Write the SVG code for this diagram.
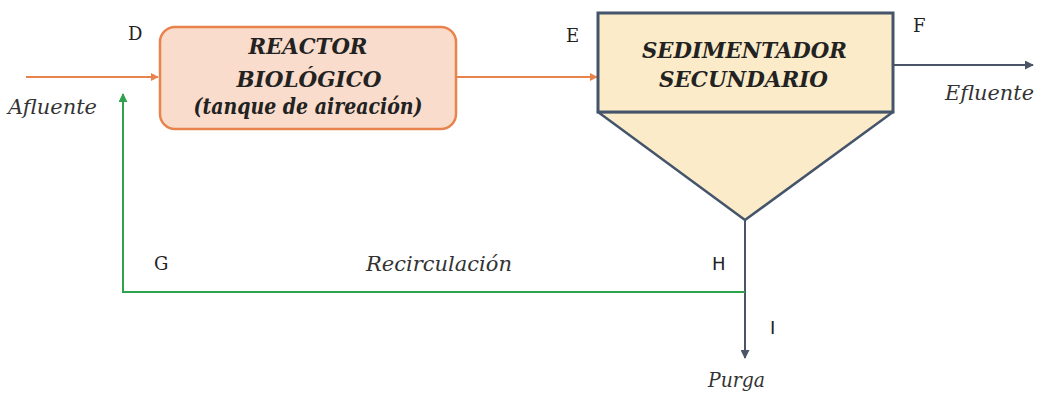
<svg xmlns="http://www.w3.org/2000/svg" width="1037" height="394" viewBox="0 0 1037 394">
<style>
.serif{font-family:"DejaVu Serif",serif}
.lbl{font-size:18px;fill:#222}
.lbls{font-family:"DejaVu Sans",sans-serif;font-size:18px;fill:#222}
.it{font-style:italic;font-size:20px;fill:#333}
.bt{font-style:italic;font-weight:bold;font-size:22px;fill:#222;text-anchor:middle}
</style>
<defs>
<marker id="ao" viewBox="0 0 10 10" refX="9" refY="5" markerWidth="8" markerHeight="8" markerUnits="userSpaceOnUse" orient="auto"><path d="M0,0L10,5L0,10z" fill="#e8834e"/></marker>
<marker id="ab" viewBox="0 0 10 10" refX="9" refY="5" markerWidth="9" markerHeight="9" markerUnits="userSpaceOnUse" orient="auto"><path d="M0,0L10,5L0,10z" fill="#4a5568"/></marker>
<marker id="ag" viewBox="0 0 10 10" refX="9" refY="5" markerWidth="9" markerHeight="9" markerUnits="userSpaceOnUse" orient="auto"><path d="M0,0L10,5L0,10z" fill="#2fa24e"/></marker>
</defs>
<g id="connectors" fill="none">
<line x1="26" y1="77" x2="158" y2="77" stroke="#e8834e" stroke-width="2" marker-end="url(#ao)"/>
<line x1="456" y1="77" x2="597" y2="77" stroke="#e8834e" stroke-width="2" marker-end="url(#ao)"/>
<line x1="894" y1="65" x2="1033" y2="65" stroke="#4a5568" stroke-width="2" marker-end="url(#ab)"/>
<line x1="745" y1="220" x2="745" y2="358" stroke="#4a5568" stroke-width="2" marker-end="url(#ab)"/>
<polyline points="745,292 123,292 123,94" stroke="#2fa24e" stroke-width="2" marker-end="url(#ag)"/>
</g>
<g id="reactor" class="serif">
<rect x="160" y="27" width="296" height="102" rx="15" fill="#f9dccb" stroke="#e8834e" stroke-width="2.5"/>
<text class="bt" x="308" y="54" textLength="119" lengthAdjust="spacingAndGlyphs">REACTOR</text>
<text class="bt" x="309" y="87" textLength="145" lengthAdjust="spacingAndGlyphs">BIOLÓGICO</text>
<text class="bt" x="308" y="114" textLength="229" lengthAdjust="spacingAndGlyphs">(tanque de aireación)</text>
</g>
<g id="sedimentador" class="serif">
<polygon points="598,112 893,112 745,220" fill="#fbebc8" stroke="#44546a" stroke-width="2.5" stroke-linejoin="round"/>
<rect x="598" y="13" width="295" height="99" fill="#fbebc8" stroke="#44546a" stroke-width="3"/>
<text class="bt" x="744.5" y="58" textLength="205" lengthAdjust="spacingAndGlyphs">SEDIMENTADOR</text>
<text class="bt" x="743.5" y="87" textLength="169" lengthAdjust="spacingAndGlyphs">SECUNDARIO</text>
</g>
<g id="labels" class="serif">
<text class="lbl" x="128" y="40">D</text>
<text class="lbl" x="566" y="42">E</text>
<text class="lbl" x="913" y="32">F</text>
<text class="lbl" x="154" y="270">G</text>
<text class="lbls" x="712" y="270">H</text>
<text class="lbls" x="770" y="334">I</text>
<text class="it" x="8" y="114" textLength="89" lengthAdjust="spacingAndGlyphs">Afluente</text>
<text class="it" x="945" y="100" textLength="89" lengthAdjust="spacingAndGlyphs">Efluente</text>
<text class="it" x="366" y="271" textLength="146" lengthAdjust="spacingAndGlyphs">Recirculación</text>
<text class="it" x="708" y="387" textLength="57" lengthAdjust="spacingAndGlyphs">Purga</text>
</g>
</svg>
